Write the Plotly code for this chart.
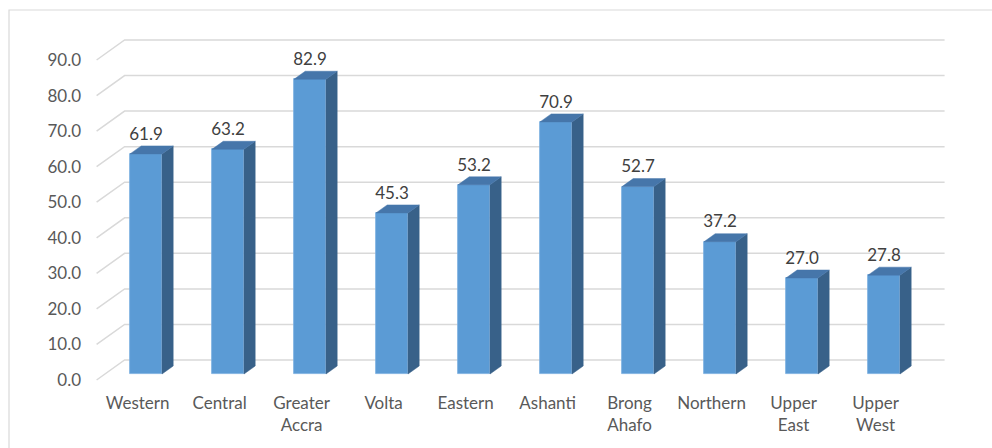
import plotly.graph_objects as go

# ---------------- data ----------------
regions = ["Western", "Central", "Greater<br>Accra", "Volta", "Eastern", "Ashanti",
           "Brong<br>Ahafo", "Northern", "Upper<br>East", "Upper<br>West"]
values = [61.9, 63.2, 82.9, 45.3, 53.2, 70.9, 52.7, 37.2, 27.0, 27.8]
y_ticks = [0, 10, 20, 30, 40, 50, 60, 70, 80, 90]

# ---------------- layout constants (pixels) ----------------
W, H = 992, 448
ML, MR, MT, MB = 90, 0, 0, 63
PX_I = 82.0          # pixels per category step
PX_V = 320.0 / 90.0  # pixels per value unit
FRONT_X0 = 137.6     # pixel x of first category on the front plane
FRONT_Y0 = 380.0     # pixel y of value 0 on the front plane
DEPTH_X, DEPTH_Y = 28.0, 20.0   # front plane -> back wall (right, up)
BAR_D0, BAR_D1 = 0.3, 0.7       # bar depth fraction
BAR_W = 32.0 / PX_I
LABEL_GAP_PX = 2.0

FRONT_COL = "#5B9BD5"
SIDE_COL = "#386189"
TOP_COL = "#4676AA"
GRID_COL = "#D9D9D9"
FONT = "Lato"

n = len(values)
idx = list(range(n))


def x_range(ox):
    return [(ML - ox) / PX_I, (W - MR - ox) / PX_I]


def y_range(oy):
    return [(oy - (H - MB)) / PX_V, (oy - MT) / PX_V]


# bar front-plane origin
BX0 = FRONT_X0 + BAR_D0 * DEPTH_X
BY0 = FRONT_Y0 - BAR_D0 * DEPTH_Y

fig = go.Figure()

# ---- gridlines: diagonal on side + horizontal on back wall (main axes) ----
bx = DEPTH_X / PX_I
by = DEPTH_Y / PX_V
gx, gy = [], []
for t in y_ticks:
    gx += [-0.5, -0.5 + bx, n - 0.5 + bx, None]
    gy += [t, t + by, t + by, None]
fig.add_trace(go.Scatter(x=gx, y=gy, mode="lines",
                         line=dict(color=GRID_COL, width=1.5),
                         hoverinfo="skip", showlegend=False))

# invisible trace to keep the main axes alive
fig.add_trace(go.Scatter(x=[0], y=[0], mode="markers", marker=dict(opacity=0),
                         hoverinfo="skip", showlegend=False))

# ---- bars (overlay axes x2/y2 = bar front plane) ----
ddx = (BAR_D1 - BAR_D0) * DEPTH_X / PX_I
ddy = (BAR_D1 - BAR_D0) * DEPTH_Y / PX_V
hw = BAR_W / 2

sx, sy, tx, ty = [], [], [], []
for i, v in zip(idx, values):
    sx += [i + hw, i + hw + ddx, i + hw + ddx, i + hw, i + hw, None]
    sy += [0, ddy, v + ddy, v, 0, None]
    tx += [i - hw, i - hw + ddx, i + hw + ddx, i + hw, i - hw, None]
    ty += [v, v + ddy, v + ddy, v, v, None]

fig.add_trace(go.Scatter(x=sx, y=sy, mode="lines", fill="toself",
                         fillcolor=SIDE_COL, line=dict(width=0.5, color=SIDE_COL),
                         xaxis="x2", yaxis="y2", hoverinfo="skip", showlegend=False))
fig.add_trace(go.Scatter(x=tx, y=ty, mode="lines", fill="toself",
                         fillcolor=TOP_COL, line=dict(width=0.5, color=TOP_COL),
                         xaxis="x2", yaxis="y2", hoverinfo="skip", showlegend=False))
fig.add_trace(go.Bar(x=idx, y=values, width=BAR_W, marker=dict(
    color=FRONT_COL, line=dict(color="#7AAEE0", width=0.8)),
    xaxis="x2", yaxis="y2", hoverinfo="skip", showlegend=False))

# data labels
fig.add_trace(go.Scatter(x=idx, y=[v + ddy + LABEL_GAP_PX / PX_V for v in values],
                         mode="text",
                         text=[f"{v:.1f}" for v in values], textposition="top center",
                         textfont=dict(family=FONT, size=17, color="#404040"),
                         xaxis="x2", yaxis="y2", hoverinfo="skip", showlegend=False))

# chart border
fig.add_shape(type="rect", xref="paper", yref="paper",
              x0=(9 - ML) / (W - ML - MR), x1=1.05,
              y0=-0.3, y1=((H - MB) - 10) / (H - MB - MT),
              line=dict(color=GRID_COL, width=1.2), layer="below")

fig.update_layout(
    width=W, height=H,
    margin=dict(l=ML, r=MR, t=MT, b=MB, pad=0),
    paper_bgcolor="white", plot_bgcolor="white",
    font=dict(family=FONT, size=17, color="#595959"),
    bargap=0,
    xaxis=dict(range=x_range(FRONT_X0), tickmode="array", tickvals=idx, ticktext=regions,
               showgrid=False, zeroline=False, showline=False, ticks="",
               ticklabelstandoff=6, fixedrange=True),
    yaxis=dict(range=y_range(FRONT_Y0), tickmode="array", tickvals=y_ticks,
               ticktext=[f"{t:.1f}" for t in y_ticks],
               showgrid=False, zeroline=False, showline=False, ticks="",
               ticklabelstandoff=8, fixedrange=True),
    xaxis2=dict(range=x_range(BX0), overlaying="x", anchor="y2", visible=False,
                fixedrange=True),
    yaxis2=dict(range=y_range(BY0), overlaying="y", anchor="x2", visible=False,
                fixedrange=True),
)

fig.write_html("out.html")
